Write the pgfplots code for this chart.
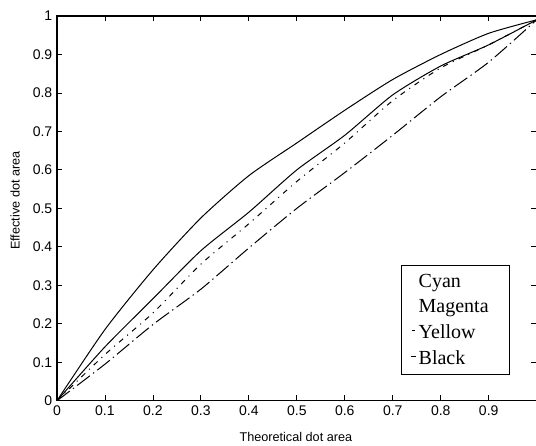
\documentclass[border=0pt]{standalone}
\usepackage{fontspec}
\setmainfont{Liberation Sans}
\newfontfamily\seriffont{Liberation Serif}
\usepackage{pgfplots}
\pgfplotsset{compat=1.18}

\pgfplotstableread{
x c m y k
0   0     0     0     0
0.1 0.185 0.14  0.12  0.095
0.2 0.34  0.265 0.228 0.198
0.3 0.475 0.39  0.355 0.29
0.4 0.585 0.49  0.46  0.397
0.5 0.67  0.60  0.57  0.50
0.6 0.755 0.69  0.67  0.593
0.7 0.835 0.795 0.78  0.69
0.8 0.90  0.87  0.865 0.79
0.9 0.955 0.925 0.925 0.88
1.0 0.99  0.99  0.99  0.99
}\data

\begin{document}
\begin{tikzpicture}
\path[use as bounding box] (-42.75pt,-33.75pt) rectangle (359.5pt,300.75pt);
\begin{axis}[
 at={(0,0)}, anchor=south west,
 scale only axis, width=360pt, height=288.75pt,
 xmin=0, xmax=1, ymin=0, ymax=1,
 xtick={0,0.1,0.2,0.3,0.4,0.5,0.6,0.7,0.8,0.9},
 ytick={0,0.1,0.2,0.3,0.4,0.5,0.6,0.7,0.8,0.9,1},
 tick align=inside, major tick length=4pt,
 tick style={black, line width=0.6pt},
 axis line style={line width=0.9pt},
 /pgf/number format/assume math mode=true,
 tick label style={font=\fontsize{10.5}{12}\selectfont},
 xlabel={Theoretical dot area}, ylabel={Effective dot area},
 label style={font=\fontsize{9.5}{11}\selectfont},
 xlabel style={at={(rel axis cs:0.498,0)}, anchor=center, yshift=-27pt},
 ylabel style={at={(axis description cs:-0.0875,0.52)}, anchor=center},
 legend style={at={(rel axis cs:0.717,0.353)}, anchor=north west, draw=black,
   line width=0.8pt, font=\seriffont\fontsize{15}{18}\selectfont,
   row sep=3.5pt, inner xsep=2pt, inner ysep=4.5pt,
   nodes={inner xsep=1pt, text width=65pt}},
 legend cell align=left,
]
\addplot[black, line width=0.75pt, smooth, tension=0.4,
  legend image code/.code={\path[draw=none,fill=none] (0,0) rectangle (0.35cm,0);}] table[x=x,y=c] {\data};
\addlegendentry{Cyan}
\addplot[black, line width=0.75pt, smooth, tension=0.4,
  legend image code/.code={\path[draw=none,fill=none] (0,0) rectangle (0.35cm,0);}] table[x=x,y=m] {\data};
\addlegendentry{Magenta}
\addplot[black, line width=0.75pt, smooth, tension=0.4, dash pattern=on 4pt off 4pt on 0.8pt off 4pt,
  legend image code/.code={\path[draw=none,fill=none] (0,0) rectangle (0.35cm,0); \draw[solid,line width=0.6pt] (0.22cm,0.05cm)--(0.3cm,0.05cm);}] table[x=x,y=y] {\data};
\addlegendentry{Yellow}
\addplot[black, line width=0.75pt, smooth, tension=0.4, dash pattern=on 12pt off 3pt on 1pt off 3pt,
  legend image code/.code={\path[draw=none,fill=none] (0,0) rectangle (0.35cm,0); \draw[solid,line width=0.6pt] (0.18cm,0.05cm)--(0.32cm,0.05cm);}] table[x=x,y=k] {\data};
\addlegendentry{Black}
\end{axis}
\end{tikzpicture}
\end{document}
